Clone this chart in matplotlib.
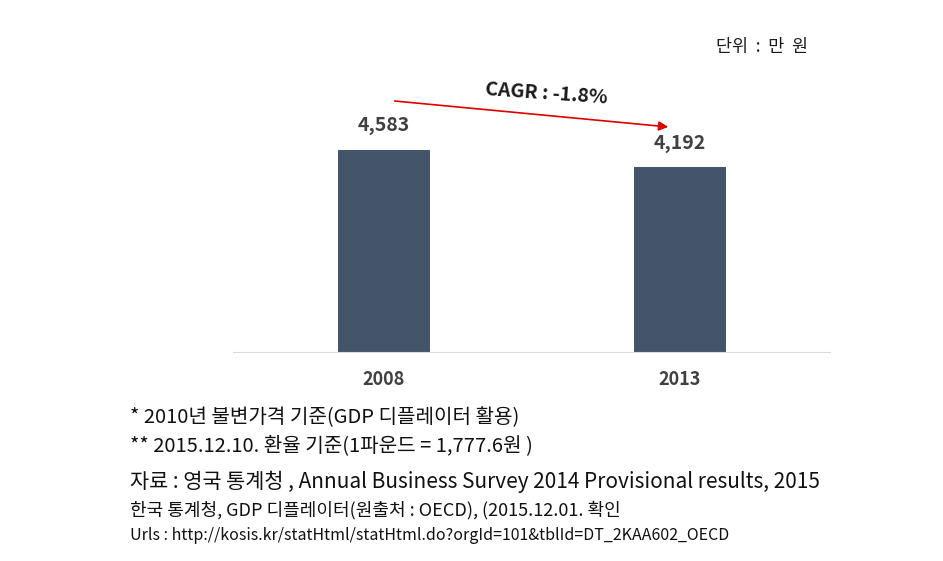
import matplotlib.pyplot as plt

plt.rcParams['font.family'] = ['Noto Sans CJK KR', 'DejaVu Sans']

years = ['2008', '2013']
values = [4583, 4192]
value_labels = ['4,583', '4,192']
cagr_text = 'CAGR : -1.8%'
unit_text = '단위  :  만  원'
notes = [
    '* 2010년 불변가격 기준(GDP 디플레이터 활용)',
    '** 2015.12.10. 환율 기준(1파운드 = 1,777.6원 )',
    '자료 : 영국 통계청 , Annual Business Survey 2014 Provisional results, 2015',
    '한국 통계청, GDP 디플레이터(원출처 : OECD), (2015.12.01. 확인',
    'Urls : http://kosis.kr/statHtml/statHtml.do?orgId=101&tblId=DT_2KAA602_OECD',
]

W, H = 943, 561
fig = plt.figure(figsize=(W / 100, H / 100), dpi=100)
# axes placed in pixel terms: x 233..830, baseline at y=352, top at y=40
ax = fig.add_axes([233 / W, (H - 352) / H, 597 / W, 312 / H])

x = range(len(years))
ax.bar(x, values, width=0.31, color='#44546a')
ax.set_xlim(-0.51, 1.507)
ax.set_ylim(0, 7078)

for xi, v, lab in zip(x, values, value_labels):
    ax.text(xi, v + 330, lab, ha='center', va='bottom', fontsize=14,
            fontweight='bold', color='#404040')

for s in ['top', 'right', 'left']:
    ax.spines[s].set_visible(False)
ax.spines['bottom'].set_color('#d9d9d9')
ax.set_yticks([])
ax.set_xticks(list(x))
ax.set_xticklabels(years, fontsize=13, fontweight='bold', color='#404040')
ax.tick_params(axis='x', length=0, pad=13)

# CAGR arrow
ax.annotate('', xy=(0.97, 5100), xytext=(0.027, 5700),
            arrowprops=dict(arrowstyle='-|>', color='#e00000', lw=1.2,
                            mutation_scale=14))
ax.text(0.55, 5850, cagr_text, ha='center', va='center', fontsize=14,
        fontweight='bold', color='#1a1a1a', rotation=-4)

fig.text(808 / W, 1 - 47 / H, unit_text, ha='right', va='center',
         fontsize=12.5, color='#1a1a1a')

note_y = [418, 446, 482, 510, 535]
note_size = [14.5, 14.5, 15, 13, 11.5]
for t, yy, fs in zip(notes, note_y, note_size):
    fig.text(130 / W, 1 - yy / H, t, ha='left', va='center', fontsize=fs,
             color='#111111')

fig.savefig('out.png', dpi=100)
